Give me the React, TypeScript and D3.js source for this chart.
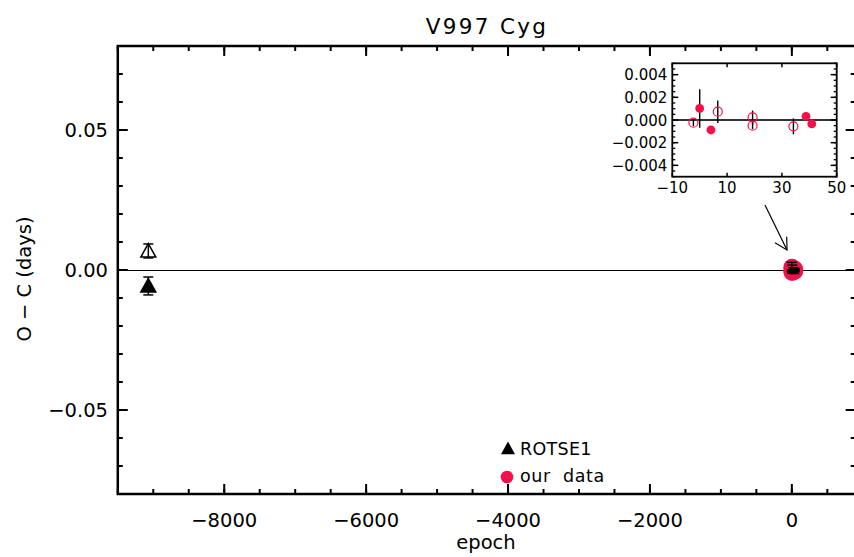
import React from "react";
import * as d3 from "d3";

// ---- data ----
const rotseEpoch = [-9070, -9070];
const rotseOC = [0.0068, -0.0057];
const rotseErr = [0.0025, 0.0032];
const rotseFilled = [false, true];

const ourEpoch = [-2.3, 0, 4.1, 6.6, 19.3, 19.3, 34.2, 38.8, 40.9];
const ourOC = [-0.00024, 0.00102, -0.00088, 0.00073, 0.00023, -0.0005, -0.00056, 0.00032, -0.00035];
const ourErr = [0.0003, 0.0017, 0.0003, 0.001, 0.0006, 0.0003, 0.0007, 0.0002, 0.0002];
const ourFilled = [false, true, true, false, false, false, false, true, true];

const mainXTicks = [-8000, -6000, -4000, -2000, 0];
const mainYTicks = [-0.05, 0, 0.05];
const insetXTicks = [-10, 10, 30, 50];
const insetYTicks = [-0.004, -0.002, 0, 0.002, 0.004];

const legendLabels = ["ROTSE1", "our data"];

const RED = "#f5104c";
const FONT = "DejaVu Sans, Liberation Sans, sans-serif";

export default function App() {
  const W = 854, H = 557;
  const x = d3.scaleLinear().domain([-9500, 900]).range([117.8, 855.7]);
  const y = d3.scaleLinear().domain([-0.08, 0.08]).range([494, 46]);
  const [xl, xr] = x.range();
  const [yb, yt] = y.range();

  const xi = d3.scaleLinear().domain([-10, 50]).range([672.3, 836.7]);
  const yi = d3.scaleLinear().domain([-0.005, 0.005]).range([176.7, 63.3]);
  const [ixl, ixr] = xi.range();
  const [iyb, iyt] = yi.range();

  const fmtX = d3.format("d");
  const fmtY = d3.format(".2f");
  const fmtYi = d3.format(".3f");

  const xMinor = d3.range(-9500, 901, 500);
  const yMinor = d3.range(-8, 8.01, 1).map((v) => v / 100);
  const yiMinor = d3.range(-10, 10.01, 1).map((v) => v / 2000);

  const tri = (cx: number, cy: number, s: number) => {
    const h = s * 0.9;
    return `M${cx},${cy - h * 0.55} L${cx + s / 2},${cy + h * 0.45} L${cx - s / 2},${cy + h * 0.45} Z`;
  };

  const cap = 5;

  return (
    <svg width={W} height={H} style={{ position: "absolute", left: 0, top: 0, background: "#fff" }} fontFamily={FONT}>
      <rect x={0} y={0} width={W} height={H} fill="#fff" />
      {/* title */}
      <text x={487} y={33.5} textAnchor="middle" fontSize={21.5} letterSpacing={2.3} fill="#000">V997 Cyg</text>

      {/* zero line */}
      <line x1={xl} x2={xr} y1={y(0) + 0.5} y2={y(0) + 0.5} stroke="#000" strokeWidth={1} />

      {/* minor ticks */}
      {xMinor.map((v) => (
        <g key={"xm" + v}>
          <line x1={x(v)} x2={x(v)} y1={yb} y2={yb - 5} stroke="#000" strokeWidth={2} />
          <line x1={x(v)} x2={x(v)} y1={yt} y2={yt + 5} stroke="#000" strokeWidth={2} />
        </g>
      ))}
      {yMinor.map((v) => (
        <g key={"ym" + v}>
          <line x1={xl} x2={xl + 5} y1={y(v)} y2={y(v)} stroke="#000" strokeWidth={2} />
          <line x1={xr} x2={xr - 5} y1={y(v)} y2={y(v)} stroke="#000" strokeWidth={2} />
        </g>
      ))}
      {/* major ticks + labels */}
      {mainXTicks.map((v) => (
        <g key={"xt" + v}>
          <line x1={x(v)} x2={x(v)} y1={yb} y2={yb - 10} stroke="#000" strokeWidth={2} />
          <line x1={x(v)} x2={x(v)} y1={yt} y2={yt + 10} stroke="#000" strokeWidth={2} />
          <text x={x(v)} y={527} textAnchor="middle" fontSize={19.5} fill="#000">{fmtX(v)}</text>
        </g>
      ))}
      {mainYTicks.map((v) => (
        <g key={"yt" + v}>
          <line x1={xl} x2={xl + 10} y1={y(v)} y2={y(v)} stroke="#000" strokeWidth={2} />
          <line x1={xr} x2={xr - 10} y1={y(v)} y2={y(v)} stroke="#000" strokeWidth={2} />
          <text x={108} y={y(v) + 7} textAnchor="end" fontSize={19.5} fill="#000">{fmtY(v)}</text>
        </g>
      ))}
      {/* frame */}
      <rect x={xl} y={yt} width={xr - xl} height={yb - yt} fill="none" stroke="#000" strokeWidth={2.5} />

      {/* axis titles */}
      <text x={486} y={549} textAnchor="middle" fontSize={19.5} fill="#000">epoch</text>
      <text transform={`translate(31,${279}) rotate(-90)`} textAnchor="middle" fontSize={19.5} fill="#000">O − C (days)</text>

      {/* our data (main) */}
      {ourEpoch.map((e, i) => (
        <circle key={"oc" + i} cx={x(e)} cy={y(ourOC[i])} r={8.5} fill={RED} />
      ))}
      {ourEpoch.map((e, i) => (
        <g key={"oe" + i} stroke="#000" strokeWidth={1.5}>
          <line x1={x(e)} x2={x(e)} y1={y(ourOC[i] - ourErr[i])} y2={y(ourOC[i] + ourErr[i])} />
          <line x1={x(e) - cap} x2={x(e) + cap} y1={y(ourOC[i] + ourErr[i])} y2={y(ourOC[i] + ourErr[i])} />
          <line x1={x(e) - cap} x2={x(e) + cap} y1={y(ourOC[i] - ourErr[i])} y2={y(ourOC[i] - ourErr[i])} />
        </g>
      ))}

      {/* ROTSE1 */}
      {rotseEpoch.map((e, i) => (
        <g key={"r" + i}>
          <path d={tri(x(e), y(rotseOC[i]), 15)} fill={rotseFilled[i] ? "#000" : "#fff"} stroke="#000" strokeWidth={1.5} />
          <g stroke="#000" strokeWidth={1.5}>
            <line x1={x(e)} x2={x(e)} y1={y(rotseOC[i] - rotseErr[i])} y2={y(rotseOC[i] + rotseErr[i])} />
            <line x1={x(e) - cap} x2={x(e) + cap} y1={y(rotseOC[i] + rotseErr[i])} y2={y(rotseOC[i] + rotseErr[i])} />
            <line x1={x(e) - cap} x2={x(e) + cap} y1={y(rotseOC[i] - rotseErr[i])} y2={y(rotseOC[i] - rotseErr[i])} />
          </g>
        </g>
      ))}

      {/* legend */}
      <path d={tri(508, 448.5, 14)} fill="#000" />
      <text x={520} y={454.5} fontSize={17.5} letterSpacing={0.3} fill="#000">{legendLabels[0]}</text>
      <circle cx={507} cy={477} r={6.3} fill={RED} />
      <text x={520} y={482} fontSize={17.5} letterSpacing={0.6} wordSpacing={6} fill="#000">{legendLabels[1]}</text>

      {/* arrow */}
      <g stroke="#000" strokeWidth={1.2} fill="none">
        <line x1={765} y1={205} x2={787} y2={250} />
        <polyline points="775,242.7 787,250 786.7,236.7" />
      </g>

      {/* inset */}
      <rect x={ixl} y={iyt} width={ixr - ixl} height={iyb - iyt} fill="#fff" />
      <line x1={ixl} x2={ixr} y1={yi(0)} y2={yi(0)} stroke="#333" strokeWidth={2} />
      {yiMinor.map((v) => (
        <g key={"yim" + v} stroke="#000" strokeWidth={1.3}>
          <line x1={ixl} x2={ixl + 3} y1={yi(v)} y2={yi(v)} />
          <line x1={ixr} x2={ixr - 3} y1={yi(v)} y2={yi(v)} />
        </g>
      ))}
      {insetYTicks.map((v) => (
        <g key={"yit" + v}>
          <line x1={ixl} x2={ixl + 6} y1={yi(v)} y2={yi(v)} stroke="#000" strokeWidth={1.5} />
          <line x1={ixr} x2={ixr - 6} y1={yi(v)} y2={yi(v)} stroke="#000" strokeWidth={1.5} />
          <text x={667.3} y={yi(v) + 5.5} textAnchor="end" fontSize={15} fill="#000">{fmtYi(v)}</text>
        </g>
      ))}
      {insetXTicks.map((v) => (
        <g key={"xit" + v}>
          <line x1={xi(v)} x2={xi(v)} y1={iyb} y2={iyb - 4} stroke="#000" strokeWidth={1.5} />
          <line x1={xi(v)} x2={xi(v)} y1={iyt} y2={iyt + 4} stroke="#000" strokeWidth={1.5} />
          <text x={xi(v)} y={192.5} textAnchor="middle" fontSize={15} fill="#000">{d3.format("d")(v)}</text>
        </g>
      ))}
      {ourEpoch.map((e, i) => (
        <line key={"ie" + i} x1={xi(e)} x2={xi(e)} y1={yi(ourOC[i] - ourErr[i])} y2={yi(ourOC[i] + ourErr[i])} stroke="#000" strokeWidth={1.4} />
      ))}
      {ourEpoch.map((e, i) =>
        ourFilled[i] ? (
          <circle key={"ip" + i} cx={xi(e)} cy={yi(ourOC[i])} r={4.4} fill={RED} />
        ) : (
          <circle key={"ip" + i} cx={xi(e)} cy={yi(ourOC[i])} r={4.5} fill="none" stroke={RED} strokeWidth={1.2} />
        )
      )}
      <rect x={ixl} y={iyt} width={ixr - ixl} height={iyb - iyt} fill="none" stroke="#000" strokeWidth={1.8} />
    </svg>
  );
}
